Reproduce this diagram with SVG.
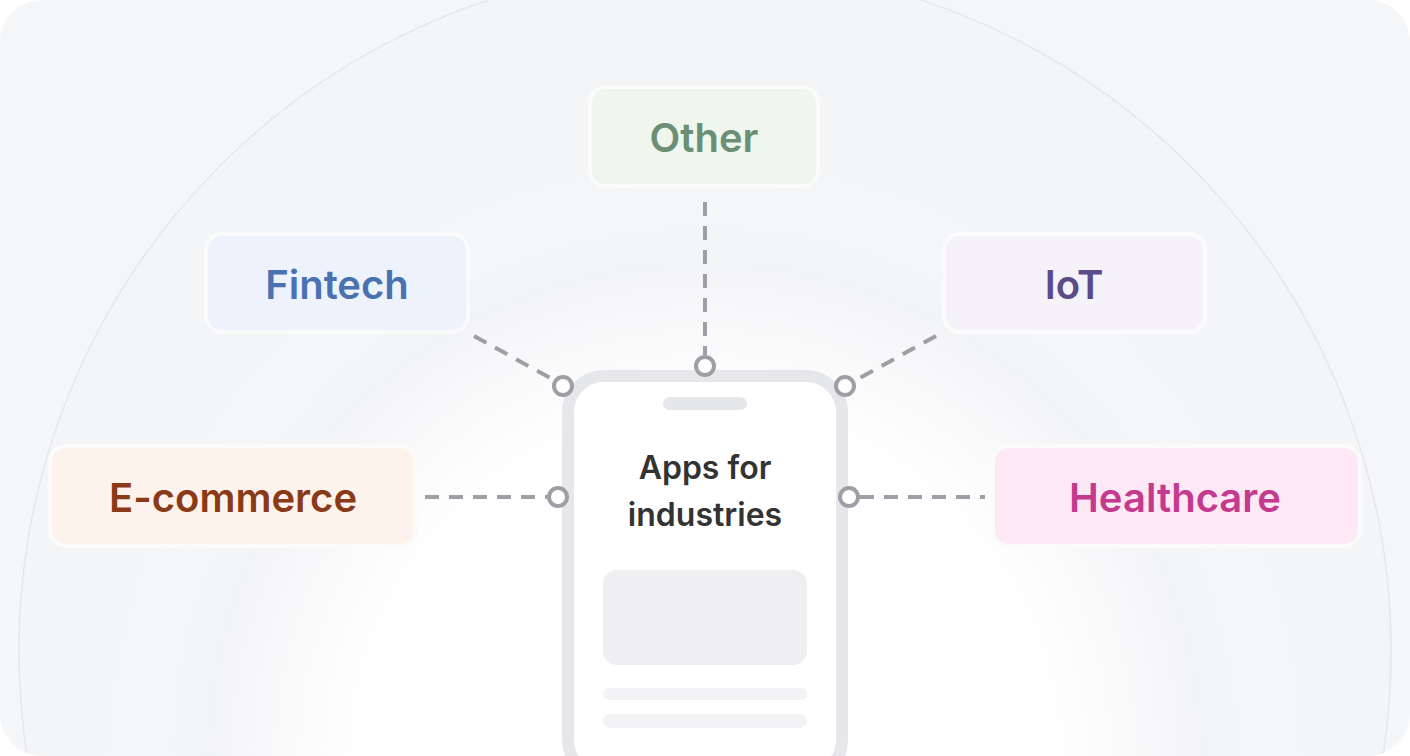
<svg xmlns="http://www.w3.org/2000/svg" width="1410" height="756" viewBox="0 0 1410 756">
<defs>
<style>
.node rect{stroke:#fbfbfc;stroke-width:4}
.node text{font-family:Inter,"Liberation Sans",sans-serif;font-size:40px;font-weight:600;text-anchor:middle}
.con line{stroke:#9d9ea6;stroke-width:4;stroke-dasharray:14 10}
.con circle{fill:#fff;stroke:#9d9ea6;stroke-width:4}
</style>
<radialGradient id="g1" cx="705" cy="760" r="620" gradientUnits="userSpaceOnUse">
<stop offset="0.55" stop-color="#ffffff"/><stop offset="0.72" stop-color="#f8f8fa"/><stop offset="0.8" stop-color="#f3f4f6"/><stop offset="0.9" stop-color="#f6f7f9"/><stop offset="1" stop-color="#f4f5f7"/>
</radialGradient>
<clipPath id="c"><rect x="0" y="0" width="1410" height="756" rx="42"/></clipPath>
</defs>
<rect x="0" y="0" width="1410" height="756" fill="#ffffff"/>
<g clip-path="url(#c)">
<rect x="0" y="0" width="1410" height="756" fill="#f5f6f8"/>
<circle cx="705" cy="651" r="686" fill="#f4f5f7" stroke="#e6e7ea" stroke-width="1.5"/>
<circle cx="705" cy="760" r="620" fill="url(#g1)"/>
</g>
<g id="phone">
<rect x="568" y="376" width="274" height="400" rx="36" fill="#ffffff" stroke="#e6e7ea" stroke-width="12"/>
<rect x="663" y="397" width="84" height="13" rx="6.5" fill="#e6e7ea"/>
<text x="705" y="479" font-family="Inter,'Liberation Sans',sans-serif" font-size="32" font-weight="600" fill="#333333" text-anchor="middle">Apps for</text>
<text x="705" y="526" font-family="Inter,'Liberation Sans',sans-serif" font-size="32" font-weight="600" fill="#333333" text-anchor="middle">industries</text>
<rect x="603" y="570" width="204" height="95" rx="14" fill="#efeff1"/>
<rect x="603" y="688" width="204" height="12" rx="6" fill="#f3f3f5"/>
<rect x="603" y="714" width="204" height="14" rx="7" fill="#f3f3f5"/>
</g>
<g class="con" id="connectors">
<line x1="705" y1="202" x2="705" y2="355"/>
<line x1="474" y1="336" x2="554" y2="380"/>
<line x1="936" y1="336" x2="856" y2="380"/>
<line x1="425" y1="497" x2="547" y2="497"/>
<line x1="860" y1="497" x2="985" y2="497"/>
<circle cx="705" cy="366" r="9"/>
<circle cx="563" cy="386" r="9"/>
<circle cx="845" cy="386" r="9"/>
<circle cx="558" cy="497" r="9"/>
<circle cx="849" cy="497" r="9"/>
</g>
<g class="node" id="other"><rect x="590" y="87" width="228" height="99" rx="16" fill="#eef6ee"/><text x="704" y="152" fill="#6b8f74">Other</text></g>
<g class="node" id="fintech"><rect x="206" y="234" width="262" height="98" rx="16" fill="#eef2fd"/><text x="337" y="299" fill="#4a72b0">Fintech</text></g>
<g class="node" id="iot"><rect x="944" y="234" width="261" height="98" rx="16" fill="#f5f2fa"/><text x="1074" y="299" fill="#5b4b8a">IoT</text></g>
<g class="node" id="ecommerce"><rect x="50" y="446" width="366" height="100" rx="16" fill="#fdf2ec"/><text x="233" y="512" fill="#8a3a17">E-commerce</text></g>
<g class="node" id="healthcare"><rect x="993" y="446" width="367" height="100" rx="16" fill="#fde8f5"/><text x="1175" y="512" fill="#c43a8e">Healthcare</text></g>
</svg>
